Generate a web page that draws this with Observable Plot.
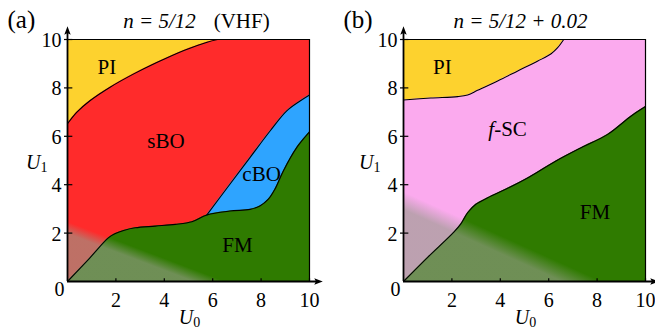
<!DOCTYPE html>
<html><head><meta charset="utf-8">
<script src="https://cdn.jsdelivr.net/npm/d3@7"></script>
<script src="https://cdn.jsdelivr.net/npm/@observablehq/plot@0.6"></script>
<style>
body{margin:0;background:#fff;}
#wrap{position:relative;width:655px;height:329px;overflow:hidden;}
#wrap > div{position:absolute;top:0;}
#wrap svg text{font-family:"Liberation Serif","Tinos","Times New Roman","DejaVu Serif",serif !important;}
</style></head><body>
<div id="wrap"><div id="pa" style="left:0"></div><div id="pb" style="left:335px"></div></div>
<script>
// ---- data ----
const xTicks = [2, 4, 6, 8, 10];
const yTicks = [2, 4, 6, 8, 10];
const axisMax = 10.3;
// panel (a): n = 5/12 (VHF)
const aPI  = [[0,6.52],[0.39,7.0],[0.94,7.48],[1.76,8.03],[2.74,8.58],[3.71,9.06],[4.81,9.55],[5.77,9.89],[6.2,10]];
const aFM  = [[0,0],[0.9,0.95],[1.70,1.81],[1.98,1.98],[2.32,2.11],[2.80,2.22],[3.63,2.29],[4.45,2.36],[5.14,2.47],[5.76,2.75],[6.71,2.91],[7.54,2.98],[7.95,3.12],[8.30,3.40],[8.57,3.81],[8.92,4.57],[9.47,5.53],[10,6.18]];
const aCBO = [[5.76,2.75],[6.71,4.02],[7.54,5.12],[8.37,6.22],[9.06,7.05],[9.61,7.46],[10,7.71]];
const aLabels = [{t:"PI",x:1.63,y:8.57},{t:"sBO",x:4.07,y:5.52},{t:"cBO",x:8.02,y:4.15},{t:"FM",x:7.02,y:1.23}];
const aTitle = "n = 5/12|(VHF)";
// panel (b): n = 5/12 + 0.02
const bPI = [[0,7.50],[1.13,7.58],[2.24,7.64],[2.65,7.71],[3.06,7.90],[3.89,8.29],[4.72,8.70],[5.55,9.11],[6.10,9.41],[6.37,9.66],[6.62,10]];
const bFM = [[0,0],[1.0,1.0],[2.09,2.05],[2.37,2.38],[2.65,2.84],[2.99,3.19],[3.48,3.46],[4.30,3.85],[5.2,4.32],[6.3,4.98],[7.34,5.53],[8.44,6.08],[9.41,6.84],[10,7.23]];
const bLabels = [{t:"PI",x:1.61,y:8.59},{t:"FM",x:7.91,y:2.60},{t:"f-SC",x:4.30,y:6.01}];
const bTitle = "n = 5/12 + 0.02|";

const RED="#ff2b2b", YEL="#fdd22e", BLUE="#2ea4ff", GREEN="#2f7b00", PINK="#fbaaee";
const WASH="rgb(150,155,138)";
const FONT = "Liberation Serif, Tinos, Times New Roman, DejaVu Serif, serif";
const curve = "catmull-rom";
const X = d => d[0], Y = d => d[1];

const arrowHead = {draw(ctx){ ctx.moveTo(0,-6); ctx.lineTo(3.2,2.5); ctx.lineTo(0,0.8); ctx.lineTo(-3.2,2.5); ctx.closePath(); }};

function defs(id, x2, y2){
  return () => {
    const d = document.createElementNS("http://www.w3.org/2000/svg","defs");
    d.innerHTML = `<linearGradient id="${id}" x1="0" y1="1" x2="${x2}" y2="${y2}">
      <stop offset="0" stop-color="${WASH}" stop-opacity="0.62"/>
      <stop offset="0.72" stop-color="${WASH}" stop-opacity="0.62"/>
      <stop offset="0.9" stop-color="${WASH}" stop-opacity="0"/>
      <stop offset="1" stop-color="${WASH}" stop-opacity="0"/></linearGradient>`;
    return d;
  };
}

function axes(){
  return [
    Plot.ruleY([10], {x1:0, x2:10, stroke:"#000", strokeWidth:1.2}),
    Plot.ruleX([10], {y1:0, y2:10, stroke:"#000", strokeWidth:1.2}),
    Plot.ruleX([0], {y1:0, y2:axisMax, stroke:"#000", strokeWidth:1.8}),
    Plot.ruleY([0], {x1:0, x2:axisMax, stroke:"#000", strokeWidth:1.8}),
    Plot.ruleX(xTicks, {x:d=>d, y1:0, y2:0.24, insetBottom:-3, stroke:"#000", strokeWidth:1.2}),
    Plot.ruleY(yTicks, {y:d=>d, x1:0, x2:0.22, insetLeft:-3, stroke:"#000", strokeWidth:1.2}),
    Plot.dot([axisMax], {x:0, y:d=>d, symbol:arrowHead, fill:"#000", r:4}),
    Plot.dot([axisMax], {x:d=>d, y:0, symbol:arrowHead, fill:"#000", r:4, rotate:90}),
    Plot.text(xTicks, {x:d=>d, frameAnchor:"bottom", text:d=>String(d), lineAnchor:"top", dy:11, fontSize:20, fontFamily:FONT}),
    Plot.text(yTicks, {y:d=>d, frameAnchor:"left", text:d=>String(d), textAnchor:"end", dx:-6, dy:1, fontSize:20, fontFamily:FONT}),
    Plot.text(["0"], {x:0, y:0, text:d=>d, textAnchor:"end", lineAnchor:"top", dx:-3, dy:0, fontSize:20, fontFamily:FONT})
  ];
}

function labels(tag, title, titleDx, dxU1){
  return [
    Plot.text([tag], {frameAnchor:"top-left", text:d=>d, textAnchor:"start", lineAnchor:"bottom", dx:-60, dy:-12, fontSize:25, fontFamily:FONT}),
    Plot.text([title], {frameAnchor:"top", text:d=>d, lineAnchor:"bottom", dx:titleDx, dy:-12, fontSize:21, fontFamily:FONT}),
    Plot.text(["U_1"], {frameAnchor:"left", text:d=>d, textAnchor:"end", lineAnchor:"bottom", dx:dxU1, dy:8, fontSize:20, fontFamily:FONT}),
    Plot.text(["U_0"], {frameAnchor:"bottom", text:d=>d, lineAnchor:"bottom", dx:1, dy:42, fontSize:20, fontFamily:FONT})
  ];
}

function richify(svg){
  d3.select(svg).selectAll("text").each(function(){
    const t = this.textContent, el = d3.select(this);
    if (t.includes("_")) {
      const [a, b] = t.split("_"); el.text(null);
      el.append("tspan").attr("font-style","italic").text(a);
      el.append("tspan").attr("font-size","0.7em").attr("dy","0.22em").text(b);
    } else if (t.includes("|")) {
      const [a, b] = t.split("|"); el.text(null);
      el.append("tspan").attr("font-style","italic").text(a);
      if (b) el.append("tspan").attr("dx","0.85em").text(b);
    } else if (t === "f-SC") {
      el.text(null);
      el.append("tspan").attr("font-style","italic").text("f");
      el.append("tspan").text("-SC");
    }
  });
}

const common = {height:329, marginTop:39, marginBottom:48,
  x:{domain:[0,10], axis:null}, y:{domain:[0,10], axis:null},
  style:{fontFamily:FONT, overflow:"visible", background:"transparent", color:"#000"}};

const pa = Plot.plot({...common, width:335, marginLeft:67, marginRight:26,
  marks:[
    defs("ga", 0.0911, 0.7596),
    Plot.frame({fill:RED}),
    Plot.areaY(aCBO, {x:X, y1:0, y2:Y, fill:BLUE, curve}),
    Plot.areaY(aFM, {x:X, y1:0, y2:Y, fill:GREEN, curve}),
    Plot.areaY(aPI, {x:X, y1:Y, y2:10, fill:YEL, curve}),
    Plot.frame({fill:"url(#ga)"}),
    Plot.line(aPI, {x:X, y:Y, stroke:"#000", strokeWidth:1.1, curve}),
    Plot.line(aFM, {x:X, y:Y, stroke:"#000", strokeWidth:1.1, curve}),
    Plot.line(aCBO, {x:X, y:Y, stroke:"#000", strokeWidth:1.1, curve}),
    Plot.text(aLabels, {x:"x", y:"y", text:"t", fontSize:21, fontFamily:FONT, lineAnchor:"bottom"}),
    ...axes(),
    ...labels("(a)", aTitle, 8, -20)
  ]});
richify(pa);
document.getElementById("pa").append(pa);

const pb = Plot.plot({...common, width:320, marginLeft:68, marginRight:10,
  marks:[
    defs("gb", 0.1548, 0.6576),
    Plot.frame({fill:PINK}),
    Plot.areaY(bFM, {x:X, y1:0, y2:Y, fill:GREEN, curve}),
    Plot.areaY(bPI, {x:X, y1:Y, y2:10, fill:YEL, curve}),
    Plot.frame({fill:"url(#gb)"}),
    Plot.line(bPI, {x:X, y:Y, stroke:"#000", strokeWidth:1.1, curve}),
    Plot.line(bFM, {x:X, y:Y, stroke:"#000", strokeWidth:1.1, curve}),
    Plot.text(bLabels, {x:"x", y:"y", text:"t", fontSize:21, fontFamily:FONT, lineAnchor:"bottom"}),
    ...axes(),
    ...labels("(b)", bTitle, -4, -23)
  ]});
richify(pb);
document.getElementById("pb").append(pb);
</script></body></html>
